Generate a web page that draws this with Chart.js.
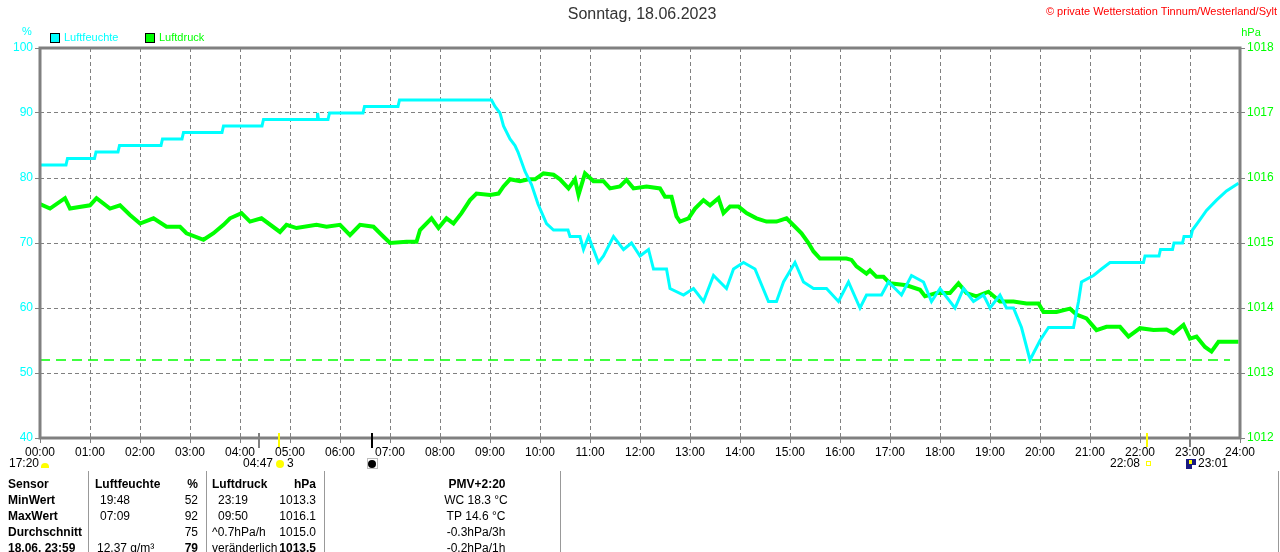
<!DOCTYPE html>
<html>
<head>
<meta charset="utf-8">
<script src="https://cdn.jsdelivr.net/npm/chart.js@4/dist/chart.umd.min.js"></script>
<style>
  html, body { margin: 0; padding: 0; background: #fff; }
  canvas { display: block; }
</style>
</head>
<body>
<canvas id="wetter" width="1280" height="552"></canvas>
<script>
// Luftfeuchte (%) - Zeit in Stunden
const feuchteZeit = [0, 0.52, 0.55, 1.09, 1.12, 1.56, 1.59, 2.42, 2.45, 2.84, 2.87, 3.64, 3.67, 4.44,
  4.47, 5.54, 5.55, 5.57, 5.76, 5.79, 6.46, 6.49, 7.16, 7.19, 9.03,
  9.1, 9.2, 9.27, 9.4, 9.5, 9.56, 9.7, 9.83, 9.96, 10.13, 10.27, 10.56, 10.6, 10.8, 10.87, 10.97,
  11.07, 11.17, 11.27, 11.47, 11.67, 11.83, 12.0, 12.17, 12.27, 12.53, 12.6, 12.87, 13.07, 13.27,
  13.47, 13.73, 13.87, 14.07, 14.3, 14.57, 14.73, 14.87, 15.1, 15.27, 15.47, 15.73, 15.97, 16.17,
  16.4, 16.53, 16.83, 16.97, 17.23, 17.43, 17.67, 17.83, 18.0, 18.3, 18.47, 18.67, 18.87, 19.0,
  19.2, 19.33, 19.47, 19.63, 19.8, 20.0, 20.17, 20.67, 20.77, 20.83, 21.07, 21.23, 21.4, 22.07,
  22.1, 22.38, 22.41, 22.65, 22.68, 22.85, 22.88, 23.02, 23.05, 23.2, 23.33, 23.53, 23.73, 23.97];
const feuchteWert = [82, 82, 83, 83, 84, 84, 85, 85, 86, 86, 87, 87, 88, 88,
  89, 89, 90, 89, 89, 90, 90, 91, 91, 92, 92,
  91, 90, 88, 86, 85, 84, 81, 79, 76, 73, 72, 72, 71, 71, 69, 71,
  69, 67, 68, 71, 69, 70, 68, 69, 66, 66, 63, 62, 63, 61,
  65, 63, 66, 67, 66, 61, 61, 64, 67, 64, 63, 63, 61, 64,
  60, 62, 62, 64, 62, 65, 64, 61, 63, 60, 63, 61, 62, 60,
  62, 60, 60, 57, 52, 55, 57, 57, 61, 64, 65, 66, 67, 67,
  68, 68, 69, 69, 70, 70, 71, 71, 72, 73.6, 75, 76.6, 78, 79.2];

// Luftdruck (hPa)
const druckZeit = [0, 0.2, 0.5, 0.6, 1.0, 1.13, 1.4, 1.6, 1.8, 2.0, 2.27, 2.53, 2.8, 2.93, 3.27,
  3.47, 3.67, 3.8, 4.03, 4.2, 4.43, 4.8, 4.93, 5.13, 5.53, 5.73, 6.0, 6.2, 6.4, 6.67, 6.8, 7.0,
  7.33, 7.53, 7.6, 7.83, 7.97, 8.13, 8.27, 8.43, 8.6, 8.73, 9.0, 9.17, 9.27, 9.4, 9.6, 9.77,
  9.9, 10.07, 10.27, 10.4, 10.57, 10.7, 10.77, 10.9, 11.07, 11.27, 11.4, 11.6, 11.73, 11.87,
  12.13, 12.4, 12.5, 12.63, 12.73, 12.8, 12.97, 13.1, 13.27, 13.4, 13.57, 13.67, 13.8, 13.97,
  14.13, 14.33, 14.53, 14.73, 14.93, 15.1, 15.23, 15.37, 15.47, 15.6, 15.87, 16.13, 16.23,
  16.33, 16.53, 16.6, 16.73, 16.87, 17.0, 17.33, 17.6, 17.7, 17.93, 18.2, 18.37, 18.53, 18.73,
  18.97, 19.2, 19.47, 19.73, 19.97, 20.07, 20.33, 20.6, 20.73, 20.93, 21.13, 21.33, 21.6,
  21.77, 22.0, 22.27, 22.53, 22.67, 22.87, 23.0, 23.13, 23.3, 23.43, 23.57, 23.8, 23.97];
const druckWert = [1015.60, 1015.53, 1015.69, 1015.53, 1015.58, 1015.69, 1015.53, 1015.58, 1015.43,
  1015.30, 1015.38, 1015.25, 1015.25, 1015.15, 1015.05, 1015.15, 1015.28, 1015.38, 1015.46,
  1015.33, 1015.38, 1015.17, 1015.28, 1015.23, 1015.28, 1015.25, 1015.28, 1015.12, 1015.28,
  1015.25, 1015.15, 1015.00, 1015.02, 1015.02, 1015.20, 1015.38, 1015.23, 1015.38, 1015.30,
  1015.46, 1015.66, 1015.76, 1015.74, 1015.76, 1015.87, 1015.98, 1015.95, 1015.98, 1015.98,
  1016.07, 1016.05, 1015.98, 1015.84, 1015.98, 1015.74, 1016.07, 1015.95, 1015.95, 1015.84,
  1015.87, 1015.97, 1015.84, 1015.87, 1015.84, 1015.71, 1015.71, 1015.41, 1015.33, 1015.38,
  1015.53, 1015.66, 1015.58, 1015.69, 1015.46, 1015.56, 1015.56, 1015.46, 1015.38, 1015.33,
  1015.33, 1015.38, 1015.25, 1015.15, 1015.00, 1014.87, 1014.76, 1014.76, 1014.76, 1014.74,
  1014.64, 1014.53, 1014.58, 1014.48, 1014.48, 1014.38, 1014.35, 1014.28, 1014.18, 1014.23,
  1014.23, 1014.38, 1014.23, 1014.18, 1014.25, 1014.10, 1014.10, 1014.07, 1014.07, 1013.94,
  1013.94, 1013.99, 1013.90, 1013.84, 1013.66, 1013.71, 1013.71, 1013.56, 1013.69, 1013.66,
  1013.67, 1013.61, 1013.74, 1013.53, 1013.56, 1013.40, 1013.33, 1013.48, 1013.48, 1013.48];

// Minimum-Linie (Luftfeuchte 52 %)
const minLinieZeit = [0, 23.8];
const minLinieWert = [52, 52];

const stunden = [0, 24];
const feuchteTicks = [40, 100, 10];
const druckTicks = [1012, 1018, 1];

const CYAN = '#00ffff';
const GRUEN = '#00ff00';
const GRAU = '#808080';
const FONT = '"Liberation Sans", Arial, sans-serif';

function punkte(xs, ys) {
  return xs.map((x, i) => ({ x: x, y: ys[i] }));
}

// feste Breite/Höhe der Achsen, damit die Zeichenfläche passt
function fest(groesse, hoehe) {
  return function (scale) {
    if (hoehe) scale.height = groesse; else scale.width = groesse;
  };
}

const beschriftung = {
  id: 'beschriftung',
  afterDraw(chart) {
    const { ctx, chartArea: a, scales } = chart;
    const x = scales.x;
    ctx.save();

    // Rahmen
    ctx.strokeStyle = GRAU;
    ctx.lineWidth = 3;
    ctx.strokeRect(a.left, a.top, a.right - a.left, a.bottom - a.top);

    // Titel
    ctx.fillStyle = '#333';
    ctx.font = '16px ' + FONT;
    ctx.textAlign = 'center';
    ctx.textBaseline = 'middle';
    ctx.fillText('Sonntag, 18.06.2023', 642, 15);

    ctx.fillStyle = '#ff0000';
    ctx.font = '11px ' + FONT;
    ctx.textAlign = 'right';
    ctx.fillText('© private Wetterstation Tinnum/Westerland/Sylt', 1277, 12);

    // Einheiten
    ctx.font = '11px ' + FONT;
    ctx.textAlign = 'center';
    ctx.fillStyle = CYAN;
    ctx.fillText('%', 27, 32);
    ctx.fillStyle = GRUEN;
    ctx.fillText('hPa', 1251, 33);

    // Legende
    const leg = [[50, CYAN, 'Luftfeuchte'], [145, GRUEN, 'Luftdruck']];
    ctx.textAlign = 'left';
    leg.forEach(([lx, c, t]) => {
      ctx.fillStyle = c;
      ctx.fillRect(lx, 33, 9, 9);
      ctx.strokeStyle = '#000';
      ctx.lineWidth = 1;
      ctx.strokeRect(lx + 0.5, 33.5, 9, 9);
      ctx.fillText(t, lx + 14, 38);
    });

    // Marken unter der Zeitachse (Sonne / Mond)
    const marke = (h, farbe, bis) => {
      const px = Math.round(x.getPixelForValue(h));
      ctx.strokeStyle = farbe;
      ctx.lineWidth = 2;
      ctx.beginPath();
      ctx.moveTo(px, a.bottom - 5);
      ctx.lineTo(px, bis);
      ctx.stroke();
    };
    marke(4.37, GRAU, 448);
    marke(4.783, '#ffff00', 447);
    marke(6.63, '#000', 448);
    marke(22.13, '#ffff00', 447);
    marke(23.0, GRAU, 447);

    ctx.font = '12px ' + FONT;
    ctx.fillStyle = '#000';
    ctx.textBaseline = 'middle';
    ctx.textAlign = 'left';
    ctx.fillText('17:20', 9, 464);
    ctx.fillStyle = '#ffff00';
    ctx.beginPath();
    ctx.arc(45, 467, 4, Math.PI, 0);
    ctx.fill();
    ctx.fillRect(41, 466, 8, 2);

    ctx.fillStyle = '#000';
    ctx.textAlign = 'right';
    ctx.fillText('04:47', 273, 464);
    ctx.fillStyle = '#ffff00';
    ctx.beginPath();
    ctx.arc(280, 464, 4, 0, Math.PI * 2);
    ctx.fill();
    ctx.fillStyle = '#000';
    ctx.textAlign = 'left';
    ctx.fillText('3', 287, 464);

    ctx.beginPath();
    ctx.arc(372, 464, 4, 0, Math.PI * 2);
    ctx.fill();
    ctx.strokeStyle = '#bbb';
    ctx.lineWidth = 1;
    ctx.strokeRect(367.5, 458.5, 10, 10);

    ctx.textAlign = 'right';
    ctx.fillText('22:08', 1140, 464);
    ctx.strokeStyle = '#ffff00';
    ctx.strokeRect(1146.5, 461.5, 4, 4);

    ctx.fillStyle = '#1a1a80';
    ctx.fillRect(1186, 459, 10, 10);
    ctx.fillStyle = '#ffff00';
    ctx.fillRect(1189, 460, 3, 4);
    ctx.fillStyle = '#fff';
    ctx.fillRect(1192, 465, 4, 4);
    ctx.fillStyle = '#000';
    ctx.textAlign = 'left';
    ctx.fillText('23:01', 1198, 464);

    // Tabelle
    ctx.strokeStyle = '#999';
    ctx.lineWidth = 1;
    [88, 206, 324, 560, 1278].forEach(lx => {
      ctx.beginPath();
      ctx.moveTo(lx + 0.5, 471);
      ctx.lineTo(lx + 0.5, 552);
      ctx.stroke();
    });

    const fett = 'bold 12px ' + FONT;
    const normal = '12px ' + FONT;
    const zeilen = [485, 501, 517, 533, 549];
    const text = (t, tx, ty, align, f) => {
      ctx.font = f || normal;
      ctx.textAlign = align;
      ctx.fillText(t, tx, ty);
    };
    text('Sensor', 8, zeilen[0], 'left', fett);
    text('MinWert', 8, zeilen[1], 'left', fett);
    text('MaxWert', 8, zeilen[2], 'left', fett);
    text('Durchschnitt', 8, zeilen[3], 'left', fett);
    text('18.06. 23:59', 8, zeilen[4], 'left', fett);

    text('Luftfeuchte', 95, zeilen[0], 'left', fett);
    text('%', 198, zeilen[0], 'right', fett);
    text('19:48', 100, zeilen[1], 'left');
    text('52', 198, zeilen[1], 'right');
    text('07:09', 100, zeilen[2], 'left');
    text('92', 198, zeilen[2], 'right');
    text('75', 198, zeilen[3], 'right');
    text('12.37 g/m³', 97, zeilen[4], 'left');
    text('79', 198, zeilen[4], 'right', fett);

    text('Luftdruck', 212, zeilen[0], 'left', fett);
    text('hPa', 316, zeilen[0], 'right', fett);
    text('23:19', 218, zeilen[1], 'left');
    text('1013.3', 316, zeilen[1], 'right');
    text('09:50', 218, zeilen[2], 'left');
    text('1016.1', 316, zeilen[2], 'right');
    text('^0.7hPa/h', 212, zeilen[3], 'left');
    text('1015.0', 316, zeilen[3], 'right');
    text('veränderlich', 212, zeilen[4], 'left');
    text('1013.5', 316, zeilen[4], 'right', fett);

    text('PMV+2:20', 477, zeilen[0], 'center', fett);
    text('WC 18.3 °C', 476, zeilen[1], 'center');
    text('TP 14.6 °C', 476, zeilen[2], 'center');
    text('-0.3hPa/3h', 476, zeilen[3], 'center');
    text('-0.2hPa/1h', 476, zeilen[4], 'center');

    ctx.restore();
  }
};

const config = {
  type: 'line',
  data: {
    datasets: [
      {
        label: 'Luftfeuchte',
        data: punkte(feuchteZeit, feuchteWert),
        yAxisID: 'yF',
        borderColor: CYAN,
        borderWidth: 3,
        pointRadius: 0,
        tension: 0,
        order: 1
      },
      {
        label: 'Luftdruck',
        data: punkte(druckZeit, druckWert),
        yAxisID: 'yD',
        borderColor: GRUEN,
        borderWidth: 4,
        pointRadius: 0,
        tension: 0,
        order: 2
      },
      {
        label: 'Min',
        data: punkte(minLinieZeit, minLinieWert),
        yAxisID: 'yF',
        borderColor: GRUEN,
        borderWidth: 1.5,
        borderDash: [10, 6],
        pointRadius: 0,
        order: 3
      }
    ]
  },
  options: {
    responsive: false,
    devicePixelRatio: 1,
    animation: false,
    layout: { padding: { top: 48, left: 0, right: 0, bottom: 0 } },
    plugins: {
      legend: { display: false },
      tooltip: { enabled: false }
    },
    scales: {
      x: {
        type: 'linear',
        min: stunden[0],
        max: stunden[1],
        afterFit: fest(114, true),
        border: { display: false, dash: [4, 3] },
        grid: {
          color: GRAU,
          tickBorderDash: [],
          tickLength: 5,
          tickColor: GRAU
        },
        ticks: {
          stepSize: 1,
          padding: 2,
          color: '#000',
          font: { family: FONT, size: 12 },
          maxRotation: 0,
          autoSkip: false,
          callback: v => String(v).padStart(2, '0') + ':00'
        }
      },
      yF: {
        type: 'linear',
        position: 'left',
        min: feuchteTicks[0],
        max: feuchteTicks[1],
        afterFit: fest(40, false),
        border: { display: false, dash: [4, 3] },
        grid: {
          color: GRAU,
          tickBorderDash: [],
          tickLength: 5,
          tickColor: GRAU
        },
        ticks: {
          stepSize: feuchteTicks[2],
          padding: 2,
          color: CYAN,
          font: { family: FONT, size: 12 },
          callback: v => String(v)
        }
      },
      yD: {
        type: 'linear',
        position: 'right',
        min: druckTicks[0],
        max: druckTicks[1],
        afterFit: fest(40, false),
        border: { display: false },
        grid: {
          drawOnChartArea: false,
          tickLength: 5,
          tickColor: GRAU
        },
        ticks: {
          stepSize: druckTicks[2],
          padding: 2,
          color: GRUEN,
          font: { family: FONT, size: 12 },
          callback: v => String(v)
        }
      }
    }
  },
  plugins: [beschriftung]
};

const wetterChart = new Chart(document.getElementById('wetter'), config);
</script>
</body>
</html>
